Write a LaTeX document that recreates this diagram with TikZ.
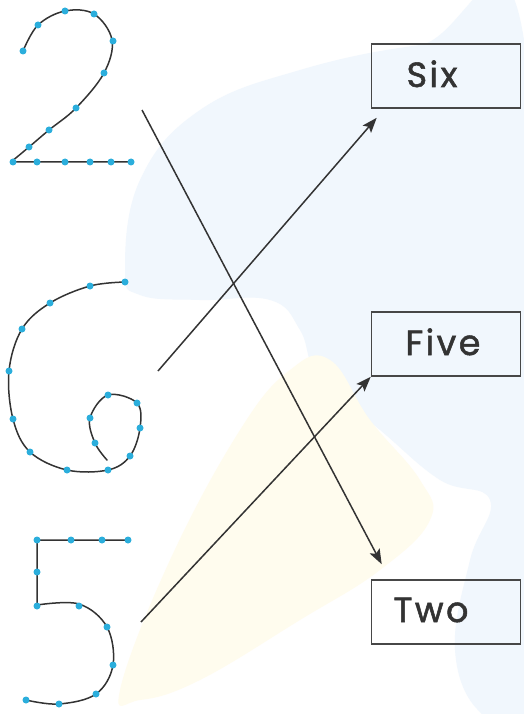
\documentclass[tikz,border=0pt]{standalone}
\usepackage{fontspec}
\setmainfont{Poppins}[LetterSpace=7, FakeBold=1.5]
\usetikzlibrary{arrows.meta,calc}
\definecolor{dotc}{HTML}{2BAEDC}
\definecolor{bgblue}{HTML}{F1F7FD}
\definecolor{bgyellow}{HTML}{FFFCEE}
\definecolor{ink}{HTML}{333333}
\begin{document}
\begin{tikzpicture}[x=1pt,y=-1pt,
  stroke/.style={draw=ink, line width=1.5pt, line cap=round, line join=round},
  wordbox/.style={draw=ink!90, line width=1.6pt, minimum width=149pt, minimum height=64pt, inner sep=0pt},
  word/.style={font=\fontsize{35}{35}\selectfont, text=ink, inner sep=0pt, anchor=base},
  link/.style={draw=ink, line width=1.5pt, -{Stealth[length=15pt,width=11pt,inset=3pt]}}]
\fill[white] (0,0) rectangle (524,714);
\useasboundingbox (0,0) rectangle (524,714);
% faint background
\fill[bgblue] plot[smooth cycle, tension=0.7] coordinates {(125,270) (140,180) (200,110) (300,70) (420,45) (524,40) (524,714) (480,712) (455,650) (470,560) (490,500) (440,480) (380,430) (320,380) (300,330) (270,300) (200,300) (140,295)};
\fill[bgyellow] plot[smooth cycle, tension=0.7] coordinates {(120,690) (170,560) (240,430) (290,370) (330,360) (370,420) (420,480) (430,520) (380,570) (300,620) (200,680) (140,700)};
% digit 2
\draw[stroke] plot[smooth, tension=0.6] coordinates {(23,51) (38,25) (65,11) (94,14) (112,40) (104,73) (76,108) (49,130) (29,147) (11,162)} -- (131,162);
\foreach \p in {(23,51),(38,25),(65,11),(94,14),(113,41),(104,73),(76,108),(49,130),(29,147),(13,162),(37,162),(65,162),(90,162),(111,162),(131,162)}
  \fill[dotc] \p circle[radius=3.5pt];
% digit 6
\draw[stroke] plot[smooth, tension=0.6] coordinates {(125,282) (90,286) (50,303) (22,329) (9,371) (13,419) (30,452) (67,470) (108,470) (130,456) (140,428) (137,403) (108,395) (90,418) (95,443) (107,460)};
\foreach \p in {(125,282),(90,286),(50,303),(22,329),(9,371),(13,419),(30,452),(67,470),(108,470),(130,456),(140,428),(137,403),(108,395),(90,418),(95,443)}
  \fill[dotc] \p circle[radius=3.5pt];
% digit 5
\draw[stroke] (128,540) -- (37,540) -- (37,605) plot[smooth, tension=0.6] coordinates {(37,605) (79,604) (107,627) (113,665) (96,694) (59,704) (26,700)};
\foreach \p in {(37,540),(71,540),(102,540),(128,540),(37,572),(37,606),(79,606),(107,627),(113,665),(96,694),(59,704),(26,700)}
  \fill[dotc] \p circle[radius=3.5pt];
% boxes
\node[wordbox] (sixbox) at (446,76) {};
\node[wordbox] (fivebox) at (446,344) {};
\node[wordbox] (twobox) at (446,612) {};
\node[word] (sixlbl) at (432,87) {Six};
\node[word] (fivelbl) at (443,355) {Five};
\node[word] (twolbl) at (431,622) {Two};
% connector ends
\coordinate (s2) at (142,110);
\coordinate (s6) at (158,371);
\coordinate (s5) at (141,622);
\coordinate (e2) at ($(twobox.north west)+(11,-15)$);
\coordinate (e6) at ($(sixbox.south west)+(6,9)$);
\draw[link] (s2) -- (e2);
\draw[link] (s6) -- (e6);
\draw[link] (s5) -- (fivebox.south west);
\end{tikzpicture}
\end{document}
